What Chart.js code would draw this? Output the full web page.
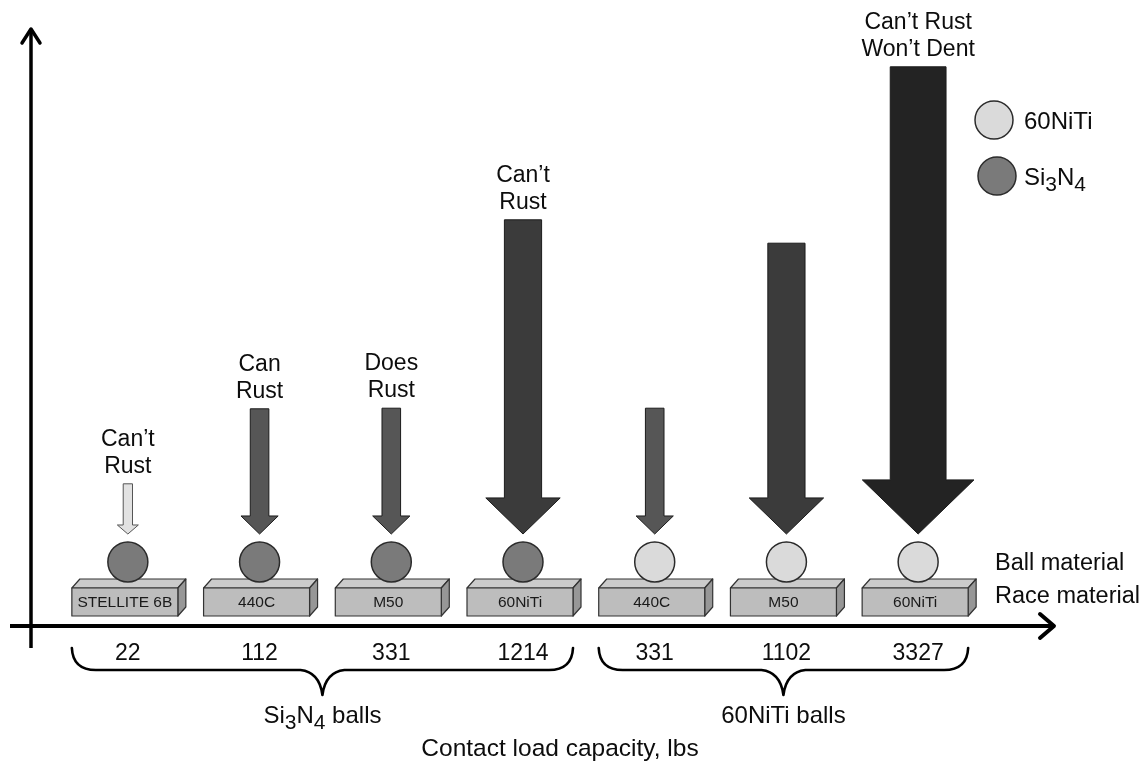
<!DOCTYPE html>
<html>
<head>
<meta charset="utf-8">
<script src="https://cdn.jsdelivr.net/npm/chart.js@4.4.1/dist/chart.umd.min.js"></script>
<style>
  html, body { margin: 0; padding: 0; background: #ffffff; }
  #wrap { width: 1146px; height: 761px; }
</style>
</head>
<body>
<div id="wrap"><canvas id="chart" width="1146" height="761"></canvas></div>
<script>
// ---------------- data ----------------
const loadCapacity   = ['22', '112', '331', '1214', '331', '1102', '3327'];          // lbs (x tick labels)
const raceMaterial   = ['STELLITE 6B', '440C', 'M50', '60NiTi', '440C', 'M50', '60NiTi'];
const ballMaterial   = ['Si3N4', 'Si3N4', 'Si3N4', 'Si3N4', '60NiTi', '60NiTi', '60NiTi'];
const arrowTop       = [23.7, 36.2, 36.3, 67.7, 36.3, 63.8, 93.2];                     // relative arrow magnitude
const arrowWeight    = [1, 2, 2, 4, 2, 4, 6];                                           // relative arrow thickness
const corrosionNote  = [['Can’t', 'Rust'], ['Can', 'Rust'], ['Does', 'Rust'], ['Can’t', 'Rust'], [], [], ['Can’t Rust', 'Won’t Dent']];
const groupLabels    = ['Si3N4 balls', '60NiTi balls'];
const groupFrom      = [0, 4];
const groupTo        = [3, 6];
const legendLabels   = ['60NiTi', 'Si3N4'];
const rowLabels      = ['Ball material', 'Race material'];
const axisTitle      = 'Contact load capacity, lbs';

// ---------------- styling constants ----------------
const FONT = '"Liberation Sans", Arial, Helvetica, sans-serif';
const ARROW_TIP_LEVEL = 15.33;
const BALL_LEVEL = 10.67;
const ballColor = { 'Si3N4': '#7a7a7a', '60NiTi': '#dadada' };
const arrowFill = { 1: '#e2e2e2', 2: '#565656', 4: '#3b3b3b', 6: '#232323' };

function drawRich(ctx, text, x, y, size, align) {
  // chemical formula digits following a letter become subscripts
  const parts = [];
  const re = /([A-Za-z])(\d+)/g;
  let last = 0, m;
  while ((m = re.exec(text)) !== null) {
    parts.push({ t: text.slice(last, m.index + 1), sub: false });
    parts.push({ t: m[2], sub: true });
    last = m.index + m[0].length;
  }
  parts.push({ t: text.slice(last), sub: false });
  const subSize = Math.round(size * 0.88);
  let total = 0;
  parts.forEach(p => { ctx.font = (p.sub ? subSize : size) + 'px ' + FONT; p.w = ctx.measureText(p.t).width; total += p.w; });
  let cx = align === 'center' ? x - total / 2 : x;
  ctx.textAlign = 'left';
  ctx.textBaseline = 'alphabetic';
  parts.forEach(p => {
    ctx.font = (p.sub ? subSize : size) + 'px ' + FONT;
    ctx.fillText(p.t, cx, p.sub ? y + Math.round(size * 0.25) : y);
    cx += p.w;
  });
}

function brace(ctx, x1, x2, yTop, yMid, yCusp) {
  const cx = (x1 + x2) / 2;
  ctx.beginPath();
  ctx.moveTo(x1, yTop);
  ctx.quadraticCurveTo(x1 + 1, yMid, x1 + 24, yMid);
  ctx.lineTo(cx - 22, yMid);
  ctx.quadraticCurveTo(cx - 3, yMid + 2, cx, yCusp);
  ctx.quadraticCurveTo(cx + 3, yMid + 2, cx + 22, yMid);
  ctx.lineTo(x2 - 24, yMid);
  ctx.quadraticCurveTo(x2 - 1, yMid, x2, yTop);
  ctx.stroke();
}

const decor = {
  id: 'decor',
  beforeDatasetsDraw(chart) {
    const { ctx, scales: { x }, chartArea } = chart;
    raceMaterial.forEach((name, i) => {
      const cx = x.getPixelForValue(i);
      const bottom = chartArea.bottom - 10;
      const fl = cx - 56, fr = cx + 50, ft = bottom - 28, d = 8, dy = 9;
      ctx.save();
      ctx.lineWidth = 1.2; ctx.strokeStyle = '#333'; ctx.lineJoin = 'round';
      ctx.beginPath();
      ctx.moveTo(fl, ft); ctx.lineTo(fl + d, ft - dy); ctx.lineTo(fr + d, ft - dy); ctx.lineTo(fr, ft); ctx.closePath();
      ctx.fillStyle = '#cbcbcb'; ctx.fill(); ctx.stroke();
      ctx.beginPath();
      ctx.moveTo(fr, ft); ctx.lineTo(fr + d, ft - dy); ctx.lineTo(fr + d, bottom - dy); ctx.lineTo(fr, bottom); ctx.closePath();
      ctx.fillStyle = '#979797'; ctx.fill(); ctx.stroke();
      ctx.fillStyle = '#bdbdbd'; ctx.fillRect(fl, ft, fr - fl, bottom - ft); ctx.strokeRect(fl, ft, fr - fl, bottom - ft);
      ctx.fillStyle = '#1a1a1a'; ctx.font = '15.5px ' + FONT; ctx.textAlign = 'center'; ctx.textBaseline = 'middle';
      ctx.fillText(name, (fl + fr) / 2, (ft + bottom) / 2 + 1);
      ctx.restore();
    });
  },
  afterDatasetsDraw(chart) {
    const { ctx } = chart;
    const bars = chart.getDatasetMeta(0).data;
    bars.forEach((el, i) => {
      const xc = el.x, yTop = el.y, yTip = el.base;
      const w = arrowWeight[i] * 9.3;
      const hw = w / 2, headHalf = Math.max(w, 10.5), headLen = w * 0.97;
      ctx.save();
      ctx.beginPath();
      ctx.moveTo(xc - hw, yTop); ctx.lineTo(xc + hw, yTop);
      ctx.lineTo(xc + hw, yTip - headLen); ctx.lineTo(xc + headHalf, yTip - headLen);
      ctx.lineTo(xc, yTip); ctx.lineTo(xc - headHalf, yTip - headLen);
      ctx.lineTo(xc - hw, yTip - headLen); ctx.closePath();
      ctx.fillStyle = arrowFill[arrowWeight[i]];
      ctx.fill();
      ctx.lineWidth = 1; ctx.strokeStyle = arrowWeight[i] === 1 ? '#555' : '#1c1c1c';
      ctx.stroke();
      // note text
      const lines = corrosionNote[i];
      ctx.fillStyle = '#0d0d0d'; ctx.font = '23px ' + FONT; ctx.textAlign = 'center'; ctx.textBaseline = 'alphabetic';
      lines.forEach((t, k) => {
        ctx.fillText(t, xc, yTop - 11 - (lines.length - 1 - k) * 27);
      });
      ctx.restore();
    });
  },
  afterDraw(chart) {
    const { ctx, scales: { x }, chartArea } = chart;
    const yAxis = chartArea.bottom;
    ctx.save();
    ctx.strokeStyle = '#000'; ctx.fillStyle = '#000';
    // axes
    ctx.lineWidth = 4; ctx.lineCap = 'butt';
    ctx.beginPath(); ctx.moveTo(10, yAxis); ctx.lineTo(1052, yAxis); ctx.stroke();
    ctx.lineWidth = 3.5;
    ctx.beginPath(); ctx.moveTo(31, 648); ctx.lineTo(31, 30); ctx.stroke();
    ctx.lineCap = 'round'; ctx.lineJoin = 'round'; ctx.lineWidth = 4;
    ctx.beginPath(); ctx.moveTo(1040, yAxis - 12); ctx.lineTo(1054, yAxis); ctx.lineTo(1040, yAxis + 12); ctx.stroke();
    ctx.lineWidth = 3.5;
    ctx.beginPath(); ctx.moveTo(22, 43); ctx.lineTo(31, 29); ctx.lineTo(40, 43); ctx.stroke();
    // braces and group labels
    ctx.lineWidth = 2.6; ctx.lineCap = 'round'; ctx.lineJoin = 'round';
    groupLabels.forEach((lab, g) => {
      const x1 = x.getPixelForValue(groupFrom[g]) - 56;
      const x2 = x.getPixelForValue(groupTo[g]) + 50;
      brace(ctx, x1, x2, 648, 670, 695);
      ctx.fillStyle = '#0d0d0d';
      drawRich(ctx, lab, (x1 + x2) / 2, 723, 24, 'center');
    });
    // axis title
    ctx.fillStyle = '#0d0d0d'; ctx.font = '24.5px ' + FONT; ctx.textAlign = 'center'; ctx.textBaseline = 'alphabetic';
    ctx.fillText(axisTitle, 560, 756);
    // row labels
    ctx.font = '23.5px ' + FONT;
    ctx.textAlign = 'left';
    ctx.fillText(rowLabels[0], 995, 570);
    ctx.fillText(rowLabels[1], 995, 603);
    // legend
    const legY = [120, 176], legX = [994, 997];
    legendLabels.forEach((lab, k) => {
      ctx.beginPath(); ctx.arc(legX[k], legY[k], 19, 0, Math.PI * 2);
      ctx.fillStyle = ballColor[lab]; ctx.fill();
      ctx.lineWidth = 1.5; ctx.strokeStyle = '#2b2b2b'; ctx.stroke();
      ctx.fillStyle = '#0d0d0d';
      drawRich(ctx, lab, 1024, legY[k] + 9, 24, 'left');
    });
    ctx.restore();
  }
};

new Chart(document.getElementById('chart'), {
  type: 'bar',
  data: {
    labels: loadCapacity,
    datasets: [
      {
        type: 'bar',
        label: 'Load arrow',
        data: arrowTop.map(v => [ARROW_TIP_LEVEL, v]),
        backgroundColor: 'rgba(0,0,0,0)',
        borderWidth: 0,
        order: 2
      },
      {
        type: 'line',
        label: 'Ball',
        data: ballMaterial.map(() => BALL_LEVEL),
        showLine: false,
        pointRadius: 20,
        pointHoverRadius: 20,
        pointBackgroundColor: ballMaterial.map(m => ballColor[m]),
        pointBorderColor: '#2b2b2b',
        pointBorderWidth: 1.5,
        order: 1
      }
    ]
  },
  options: {
    responsive: false,
    devicePixelRatio: 1,
    animation: false,
    events: [],
    layout: { padding: { left: 62, right: 162, top: 26, bottom: 79.4 } },
    scales: {
      x: {
        type: 'category',
        offset: true,
        grid: { display: false, drawTicks: false },
        border: { display: false },
        ticks: { color: '#0d0d0d', font: { family: FONT, size: 23 }, padding: 14, maxRotation: 0, autoSkip: false }
      },
      y: { display: false, min: 0, max: 100 }
    },
    plugins: { legend: { display: false }, tooltip: { enabled: false } }
  },
  plugins: [decor]
});
</script>
</body>
</html>
